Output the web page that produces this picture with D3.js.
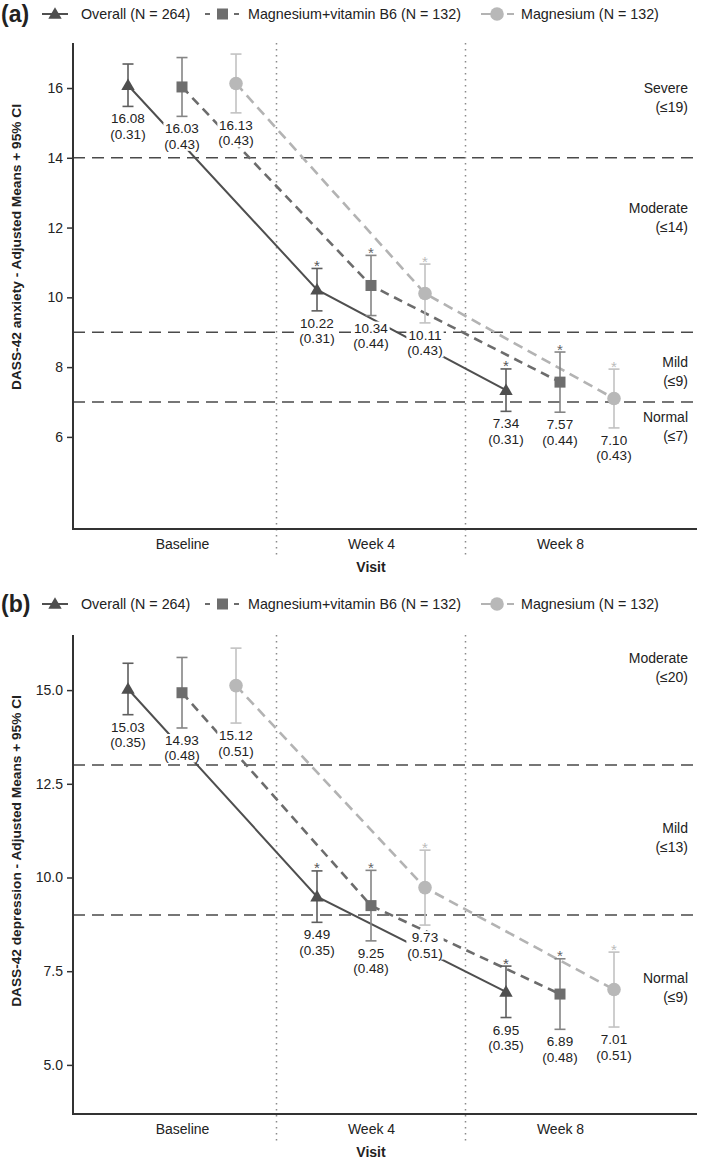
<!DOCTYPE html>
<html>
<head>
<meta charset="utf-8">
<script src="https://cdn.jsdelivr.net/npm/d3@7"></script>
<style>
  html, body { margin: 0; padding: 0; background: #fff; }
  svg { display: block; font-family: "Liberation Sans", Arial, Helvetica, sans-serif; }
</style>
</head>
<body>
<svg id="chart" width="709" height="1162"></svg>
<script>
// ---------------- DATA ----------------
const visits = ["Baseline", "Week 4", "Week 8"];
const seriesNames = ["Overall (N = 264)", "Magnesium+vitamin B6 (N = 132)", "Magnesium (N = 132)"];

// (a) DASS-42 anxiety
const anxietyOverall = [16.08, 10.22, 7.34];
const anxietyOverallSE = [0.31, 0.31, 0.31];
const anxietyMgB6 = [16.03, 10.34, 7.57];
const anxietyMgB6SE = [0.43, 0.44, 0.44];
const anxietyMg = [16.13, 10.11, 7.10];
const anxietyMgSE = [0.43, 0.43, 0.43];
const anxietyTicks = [6, 8, 10, 12, 14, 16];
const anxietyCutoffs = [14, 9, 7];
const anxietyCategories = [["Severe", "(≤19)"], ["Moderate", "(≤14)"], ["Mild", "(≤9)"], ["Normal", "(≤7)"]];

// (b) DASS-42 depression
const depressionOverall = [15.03, 9.49, 6.95];
const depressionOverallSE = [0.35, 0.35, 0.35];
const depressionMgB6 = [14.93, 9.25, 6.89];
const depressionMgB6SE = [0.48, 0.48, 0.48];
const depressionMg = [15.12, 9.73, 7.01];
const depressionMgSE = [0.51, 0.51, 0.51];
const depressionTicks = [5.0, 7.5, 10.0, 12.5, 15.0];
const depressionCutoffs = [13, 9];
const depressionCategories = [["Moderate", "(≤20)"], ["Mild", "(≤13)"], ["Normal", "(≤9)"]];

// significance vs baseline (asterisk) per visit
const significant = [false, true, true];

// ---------------- STYLE / LAYOUT ----------------
const styles = [
  { line: "#4f4f4f", dash: null, width: 2, marker: "#4f4f4f", err: "#5e5e5e", star: "#555", shape: "triangle" },
  { line: "#6c6c6c", dash: "9,6", width: 2.6, marker: "#6e6e6e", err: "#858585", star: "#666", shape: "square" },
  { line: "#b3b3b3", dash: "10,6", width: 2.6, marker: "#b8b8b8", err: "#c2c2c2", star: "#bbb", shape: "circle" }
];

const panels = [
  {
    tag: "(a)", legendY: 14, top: 43, bottom: 529, domain: [3.36, 17.29],
    ticks: anxietyTicks, fmt: d3.format("d"),
    series: [[anxietyOverall, anxietyOverallSE], [anxietyMgB6, anxietyMgB6SE], [anxietyMg, anxietyMgSE]],
    cutoffs: anxietyCutoffs, categories: anxietyCategories, catY: [88, 208, 362, 417],
    yTitle: "DASS-42 anxiety - Adjusted Means + 95% CI", yTitleY: 247
  },
  {
    tag: "(b)", legendY: 604, top: 635, bottom: 1114, domain: [3.69, 16.47],
    ticks: depressionTicks, fmt: d3.format(".1f"),
    series: [[depressionOverall, depressionOverallSE], [depressionMgB6, depressionMgB6SE], [depressionMg, depressionMgSE]],
    cutoffs: depressionCutoffs, categories: depressionCategories, catY: [658, 828, 978],
    yTitle: "DASS-42 depression - Adjusted Means + 95% CI", yTitleY: 851
  }
];

const svg = d3.select("#chart");
const axisLeft = 73, axisRight = 697;
const x = d3.scalePoint().domain(visits).range([182, 560]);
const offset = d3.scalePoint().domain([0, 1, 2]).range([-54, 54]);
const sep = [(x(visits[0]) + x(visits[1])) / 2, (x(visits[1]) + x(visits[2])) / 2];

function drawMarker(g, shape, cx, cy, fill) {
  if (shape === "triangle") {
    g.append("path").attr("d", d3.symbol().type(d3.symbolTriangle).size(78)())
      .attr("transform", `translate(${cx},${cy + 1})`).attr("fill", fill);
  } else if (shape === "square") {
    g.append("rect").attr("x", cx - 5.5).attr("y", cy - 5.5).attr("width", 11).attr("height", 11).attr("fill", fill);
  } else {
    g.append("circle").attr("cx", cx).attr("cy", cy).attr("r", 6.8).attr("fill", fill);
  }
}

panels.forEach(p => {
  const g = svg.append("g");
  const y = d3.scaleLinear().domain(p.domain).range([p.bottom, p.top]);

  // ---- legend ----
  const lg = g.append("g").attr("transform", `translate(0,${p.legendY})`);
  lg.append("text").attr("x", 1).attr("y", 0).attr("dy", "0.36em")
    .attr("font-size", 23).attr("font-weight", "bold").attr("fill", "#222").text(p.tag);
  const legendItems = [
    { lx1: 42, lx2: 68, mx: 55, tx: 81 },
    { lx1: 205, lx2: 239, mx: 222.5, tx: 248 },
    { lx1: 481, lx2: 514, mx: 497, tx: 521 }
  ];
  legendItems.forEach((li, i) => {
    const s = styles[i];
    if (i === 0) {
      lg.append("line").attr("x1", li.lx1).attr("x2", li.lx2).attr("y1", 0).attr("y2", 0)
        .attr("stroke", s.line).attr("stroke-width", 2);
    } else if (i === 1) {
      lg.append("line").attr("x1", li.lx1).attr("x2", li.lx1 + 5).attr("y1", 0).attr("y2", 0).attr("stroke", s.line).attr("stroke-width", 2);
      lg.append("line").attr("x1", li.lx2 - 5).attr("x2", li.lx2).attr("y1", 0).attr("y2", 0).attr("stroke", s.line).attr("stroke-width", 2);
    } else {
      lg.append("line").attr("x1", li.lx1).attr("x2", li.mx).attr("y1", 0).attr("y2", 0).attr("stroke", s.line).attr("stroke-width", 2);
      lg.append("line").attr("x1", li.lx2 - 7).attr("x2", li.lx2).attr("y1", 0).attr("y2", 0).attr("stroke", s.line).attr("stroke-width", 2);
    }
    drawMarker(lg, s.shape, li.mx, 0, s.marker);
    lg.append("text").attr("x", li.tx).attr("y", 0).attr("dy", "0.36em")
      .attr("font-size", 14.3).attr("fill", "#222").text(seriesNames[i]);
  });

  // ---- cutoff dashed lines ----
  p.cutoffs.forEach(c => {
    g.append("line").attr("x1", axisLeft).attr("x2", axisRight).attr("y1", y(c)).attr("y2", y(c))
      .attr("stroke", "#4a4a4a").attr("stroke-width", 1.6).attr("stroke-dasharray", "12,7");
  });

  // ---- dotted visit separators ----
  sep.forEach(sx => {
    g.append("line").attr("x1", sx).attr("x2", sx).attr("y1", p.top).attr("y2", p.bottom + 30)
      .attr("stroke", "#8a8a8a").attr("stroke-width", 1.5).attr("stroke-dasharray", "1.5,4.5");
  });

  // ---- category labels ----
  p.categories.forEach((c, i) => {
    g.append("text").attr("x", 688).attr("y", p.catY[i]).attr("dy", "0.36em")
      .attr("text-anchor", "end").attr("font-size", 14).attr("fill", "#222").text(c[0]);
    g.append("text").attr("x", 688).attr("y", p.catY[i] + 19).attr("dy", "0.36em")
      .attr("text-anchor", "end").attr("font-size", 14).attr("fill", "#222").text(c[1]);
  });

  // ---- series lines ----
  p.series.forEach((sd, si) => {
    const s = styles[si];
    const line = d3.line().x((d, i) => x(visits[i]) + offset(si)).y(d => y(d));
    g.append("path").datum(sd[0]).attr("d", line).attr("fill", "none")
      .attr("stroke", s.line).attr("stroke-width", s.width)
      .attr("stroke-dasharray", s.dash);
  });

  // ---- value labels with white backgrounds ----
  p.series.forEach((sd, si) => {
    sd[0].forEach((m, vi) => {
      const cx = x(visits[vi]) + offset(si);
      const lo = y(m - 1.96 * sd[1][vi]);
      const tg = g.append("g");
      const t1 = tg.append("text").attr("x", cx).attr("y", lo + 17).attr("text-anchor", "middle")
        .attr("font-size", 13.5).attr("fill", "#222").text(m.toFixed(2));
      const t2 = tg.append("text").attr("x", cx).attr("y", lo + 32.5).attr("text-anchor", "middle")
        .attr("font-size", 13.5).attr("fill", "#222").text(`(${sd[1][vi].toFixed(2)})`);
      const b1 = t1.node().getBBox(), b2 = t2.node().getBBox();
      const bx = Math.min(b1.x, b2.x) - 1, bw = Math.max(b1.x + b1.width, b2.x + b2.width) - bx + 1;
      tg.insert("rect", "text").attr("x", bx).attr("y", b1.y + 1).attr("width", bw)
        .attr("height", b2.y + b2.height - b1.y - 2).attr("fill", "#fff");
    });
  });

  // ---- error bars, markers, asterisks ----
  p.series.forEach((sd, si) => {
    const s = styles[si];
    sd[0].forEach((m, vi) => {
      const cx = x(visits[vi]) + offset(si);
      const hi = y(m + 1.96 * sd[1][vi]), lo = y(m - 1.96 * sd[1][vi]);
      g.append("line").attr("x1", cx).attr("x2", cx).attr("y1", hi).attr("y2", lo).attr("stroke", s.err).attr("stroke-width", 1.6);
      [hi, lo].forEach(yy => g.append("line").attr("x1", cx - 5.5).attr("x2", cx + 5.5).attr("y1", yy).attr("y2", yy)
        .attr("stroke", s.err).attr("stroke-width", 1.6));
      drawMarker(g, s.shape, cx, y(m), s.marker);
      if (significant[vi]) {
        g.append("text").attr("x", cx).attr("y", hi + 2.5).attr("text-anchor", "middle")
          .attr("font-size", 15).attr("fill", s.star).text("*");
      }
    });
  });

  // ---- axes ----
  const yAxis = d3.axisLeft(y).tickValues(p.ticks).tickFormat(p.fmt).tickSize(6).tickPadding(4);
  const ya = g.append("g").attr("transform", `translate(${axisLeft},0)`).call(yAxis);
  ya.select(".domain").remove();
  ya.selectAll(".tick line").attr("stroke", "#333").attr("stroke-width", 1.5);
  ya.selectAll(".tick text").attr("font-size", 14).attr("fill", "#222").attr("font-family", "Liberation Sans, Arial, sans-serif");
  g.append("line").attr("x1", axisLeft).attr("x2", axisLeft).attr("y1", p.top).attr("y2", p.bottom + 1)
    .attr("stroke", "#333").attr("stroke-width", 2);

  const xAxis = d3.axisBottom(x).tickSize(0).tickPadding(10);
  const xa = g.append("g").attr("transform", `translate(0,${p.bottom})`).call(xAxis);
  xa.select(".domain").remove();
  xa.selectAll(".tick text").attr("font-size", 14).attr("fill", "#222").attr("font-family", "Liberation Sans, Arial, sans-serif");
  g.append("line").attr("x1", axisLeft).attr("x2", axisRight).attr("y1", p.bottom).attr("y2", p.bottom)
    .attr("stroke", "#333").attr("stroke-width", 2);

  g.append("text").attr("x", (axisLeft + axisRight) / 2 - 14).attr("y", p.bottom + 38).attr("dy", "0.36em")
    .attr("text-anchor", "middle").attr("font-size", 14).attr("font-weight", "bold").attr("fill", "#222").text("Visit");

  g.append("text").attr("transform", `translate(16,${p.yTitleY}) rotate(-90)`).attr("dy", "0.36em")
    .attr("text-anchor", "middle").attr("font-size", 13.7).attr("font-weight", "bold").attr("fill", "#222").text(p.yTitle);
});
</script>
</body>
</html>
